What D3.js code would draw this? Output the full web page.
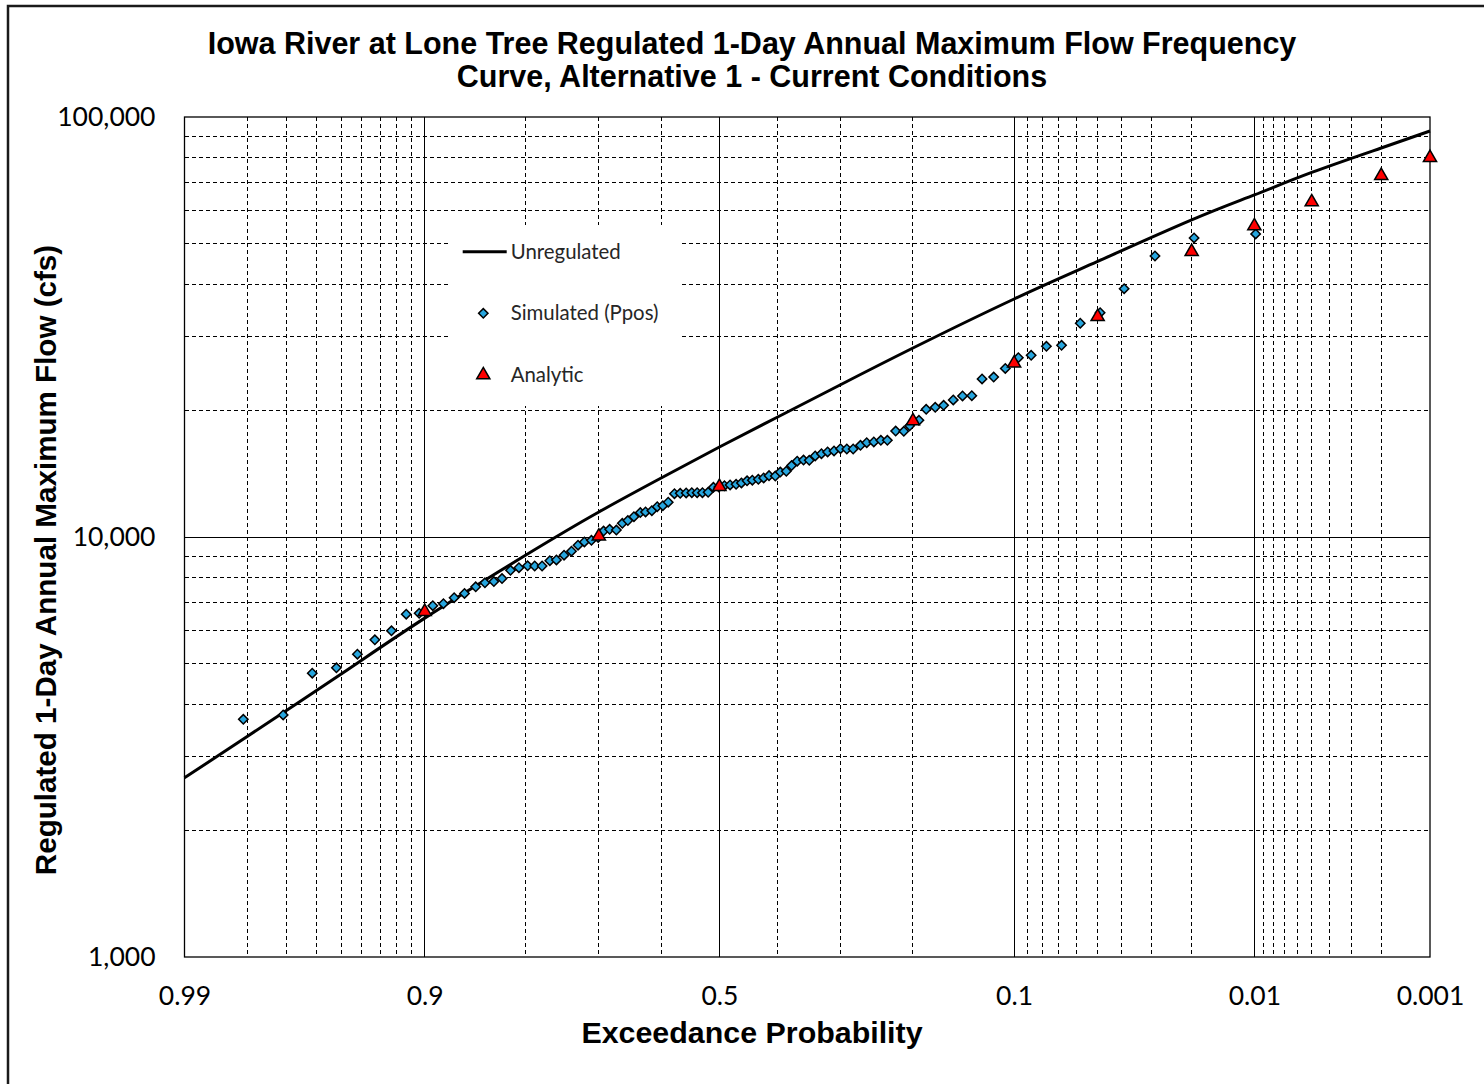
<!DOCTYPE html>
<html>
<head>
<meta charset="utf-8">
<script src="https://cdn.jsdelivr.net/npm/d3@7"></script>
<style>
  body { margin: 0; background: #fff; }
  svg { display: block; }
</style>
</head>
<body>
<div id="chart"></div>
<script>
// unregulated frequency curve
var curveProb = [0.99, 0.98, 0.95, 0.9, 0.8, 0.7, 0.6, 0.5, 0.4, 0.3, 0.2, 0.1, 0.05, 0.02, 0.01, 0.005, 0.002, 0.001];
var curveFlow = [2670, 3350, 4720, 6410, 9060, 11470, 13820, 16380, 19310, 23010, 28180, 36870, 45300, 56870, 65220, 73790, 84370, 92620];

// simulated annual maxima (plotting positions)
var simProb = [0.9808, 0.9711, 0.9617, 0.9521, 0.9423, 0.9330, 0.9231, 0.9134, 0.9042, 0.8937,
  0.8850, 0.8757, 0.8662, 0.8554, 0.8461, 0.8367, 0.8278, 0.8182, 0.8084, 0.7979,
  0.7891, 0.7797, 0.7696, 0.7608, 0.7504, 0.7400, 0.7307, 0.7215, 0.7111, 0.7010,
  0.6928, 0.6835, 0.6730, 0.6636, 0.6548, 0.6450, 0.6346, 0.6260, 0.6156, 0.6066,
  0.5972, 0.5881, 0.5775, 0.5677, 0.5575, 0.5478, 0.5386, 0.5294, 0.5196, 0.5104,
  0.5010, 0.4913, 0.4815, 0.4711, 0.4619, 0.4522, 0.4431, 0.4328, 0.4237, 0.4146,
  0.4040, 0.3956, 0.3856, 0.3768, 0.3676, 0.3573, 0.3480, 0.3385, 0.3286, 0.3190,
  0.3091, 0.2993, 0.2898, 0.2804, 0.2698, 0.2609, 0.2510, 0.2413, 0.2326, 0.2217,
  0.2113, 0.2040, 0.1928, 0.1843, 0.1740, 0.1648, 0.1546, 0.1452, 0.1362, 0.1267,
  0.1165, 0.1069, 0.0968, 0.0876, 0.0775, 0.0684, 0.0583, 0.0489, 0.0392, 0.0291,
  0.0195, 0.00985];
var simFlow = [3680, 3770, 4740, 4880, 5260, 5690, 5980, 6550, 6580, 6860,
  6940, 7170, 7340, 7610, 7780, 7830, 7960, 8330, 8450, 8540,
  8530, 8530, 8780, 8820, 9050, 9250, 9560, 9730, 9820, 9970,
  10330, 10430, 10390, 10780, 10940, 11180, 11430, 11470, 11550, 11810,
  11870, 12100, 12680, 12710, 12730, 12750, 12750, 12750, 12780, 13130,
  13150, 13250, 13300, 13350, 13450, 13610, 13650, 13720, 13820, 14000,
  13970, 14280, 14340, 14790, 15150, 15250, 15230, 15600, 15790, 15940,
  16030, 16230, 16200, 16200, 16530, 16770, 16840, 16990, 16990, 17880,
  17850, 18400, 18960, 20140, 20360, 20590, 21200, 21670, 21700, 23780,
  24040, 25190, 26730, 27080, 28450, 28600, 32280, 34200, 39010, 46670,
  51520, 52660];

// analytic frequency curve ordinates
var anaProb = [0.9, 0.7, 0.5, 0.2, 0.1, 0.05, 0.02, 0.01, 0.005, 0.002, 0.001];
var anaFlow = [6640, 10040, 13180, 18890, 25920, 33450, 47780, 55020, 62750, 72480, 80000];

// axes
var xTickProbs = [0.99, 0.9, 0.5, 0.1, 0.01, 0.001];
var xTickLabels = ["0.99", "0.9", "0.5", "0.1", "0.01", "0.001"];
var xMajorProbs = [0.9, 0.5, 0.1, 0.01];
var xMinorProbs = [0.98, 0.97, 0.96, 0.95, 0.94, 0.93, 0.92, 0.91,
  0.8, 0.7, 0.6, 0.4, 0.3, 0.2,
  0.09, 0.08, 0.07, 0.06, 0.05, 0.04, 0.03, 0.02,
  0.009, 0.008, 0.007, 0.006, 0.005, 0.004, 0.003, 0.002];
var yTicks = [1000, 10000, 100000];
var yMajor = [10000];
var yMinor = [2000, 3000, 4000, 5000, 6000, 7000, 8000, 9000,
  20000, 30000, 40000, 50000, 60000, 70000, 80000, 90000];

var legendItems = ["Unregulated", "Simulated (Ppos)", "Analytic"];

// inverse standard normal (Acklam)
function normInv(p) {
  var a = [-3.969683028665376e+01, 2.209460984245205e+02, -2.759285104469687e+02, 1.383577518672690e+02, -3.066479806614716e+01, 2.506628277459239e+00];
  var b = [-5.447609879822406e+01, 1.615858368580409e+02, -1.556989798598866e+02, 6.680131188771972e+01, -1.328068155288572e+01];
  var c = [-7.784894002430293e-03, -3.223964580411365e-01, -2.400758277161838e+00, -2.549732539343734e+00, 4.374664141464968e+00, 2.938163982698783e+00];
  var d = [7.784695709041462e-03, 3.224671290700398e-01, 2.445134137142996e+00, 3.754408661907416e+00];
  var plow = 0.02425, q, r;
  if (p < plow) {
    q = Math.sqrt(-2 * Math.log(p));
    return (((((c[0]*q+c[1])*q+c[2])*q+c[3])*q+c[4])*q+c[5]) / ((((d[0]*q+d[1])*q+d[2])*q+d[3])*q+1);
  }
  if (p > 1 - plow) {
    q = Math.sqrt(-2 * Math.log(1 - p));
    return -(((((c[0]*q+c[1])*q+c[2])*q+c[3])*q+c[4])*q+c[5]) / ((((d[0]*q+d[1])*q+d[2])*q+d[3])*q+1);
  }
  q = p - 0.5; r = q * q;
  return (((((a[0]*r+a[1])*r+a[2])*r+a[3])*r+a[4])*r+a[5])*q / (((((b[0]*r+b[1])*r+b[2])*r+b[3])*r+b[4])*r+1);
}
// exceedance probability -> standard normal variate
function zOf(p) { return normInv(1 - p); }

var svgWidth = 1484, svgHeight = 1084;
var plot = { left: 184.5, right: 1430, top: 117, bottom: 957 };

var svg = d3.select("#chart").append("svg")
  .attr("width", svgWidth)
  .attr("height", svgHeight);

// outer chart frame
svg.append("rect")
  .attr("x", 8).attr("y", 6)
  .attr("width", 1520).attr("height", 1120)
  .attr("fill", "#fff")
  .attr("stroke", "#1a1a1a")
  .attr("stroke-width", 2.5);

var xScale = d3.scaleLinear()
  .domain([zOf(0.99), zOf(0.001)])
  .range([plot.left, plot.right]);

var yScale = d3.scaleLog()
  .domain([1000, 100000])
  .range([plot.bottom, plot.top]);

// gridlines
var grid = svg.append("g").attr("shape-rendering", "crispEdges");

grid.selectAll(".vminor").data(xMinorProbs).enter().append("line")
  .attr("x1", d => xScale(zOf(d))).attr("x2", d => xScale(zOf(d)))
  .attr("y1", plot.top).attr("y2", plot.bottom)
  .attr("stroke", "#000").attr("stroke-width", 1)
  .attr("stroke-dasharray", "4,3");

grid.selectAll(".hminor").data(yMinor).enter().append("line")
  .attr("x1", plot.left).attr("x2", plot.right)
  .attr("y1", d => yScale(d)).attr("y2", d => yScale(d))
  .attr("stroke", "#000").attr("stroke-width", 1)
  .attr("stroke-dasharray", "4,3");

grid.selectAll(".vmajor").data(xMajorProbs).enter().append("line")
  .attr("x1", d => xScale(zOf(d))).attr("x2", d => xScale(zOf(d)))
  .attr("y1", plot.top).attr("y2", plot.bottom)
  .attr("stroke", "#000").attr("stroke-width", 1);

grid.selectAll(".hmajor").data(yMajor).enter().append("line")
  .attr("x1", plot.left).attr("x2", plot.right)
  .attr("y1", d => yScale(d)).attr("y2", d => yScale(d))
  .attr("stroke", "#000").attr("stroke-width", 1);

// legend box hides the grid behind it
var legend = svg.append("g");
legend.append("rect")
  .attr("x", 449).attr("y", 225)
  .attr("width", 233).attr("height", 181)
  .attr("fill", "#fff");

// plot border
svg.append("rect")
  .attr("x", plot.left).attr("y", plot.top)
  .attr("width", plot.right - plot.left).attr("height", plot.bottom - plot.top)
  .attr("fill", "none")
  .attr("stroke", "#000")
  .attr("stroke-width", 1.3);

// axes
var xAxis = d3.axisBottom(xScale)
  .tickValues(xTickProbs.map(zOf))
  .tickFormat((d, i) => xTickLabels[i])
  .tickSize(0)
  .tickPadding(29);

var yAxis = d3.axisLeft(yScale)
  .tickValues(yTicks)
  .tickFormat(d3.format(","))
  .tickSize(0)
  .tickPadding(29);

var gx = svg.append("g")
  .attr("transform", `translate(0, ${plot.bottom})`)
  .call(xAxis);
var gy = svg.append("g")
  .attr("transform", `translate(${plot.left}, 0)`)
  .call(yAxis);

[gx, gy].forEach(function(g) {
  g.select(".domain").remove();
  g.selectAll("text")
    .attr("fill", "#000")
    .style("font-family", "Lato, 'Open Sans', sans-serif")
    .style("font-size", "26.5px");
});

// unregulated curve
var line = d3.line()
  .x((d, i) => xScale(zOf(curveProb[i])))
  .y(d => yScale(d))
  .curve(d3.curveNatural);

svg.append("path")
  .datum(curveFlow)
  .attr("d", line)
  .attr("fill", "none")
  .attr("stroke", "#000")
  .attr("stroke-width", 3);

// simulated points: diamonds
var diamond = d3.symbol().type(d3.symbolSquare).size(44);
svg.selectAll(".sim").data(simFlow).enter().append("path")
  .attr("d", diamond)
  .attr("transform", (d, i) => `translate(${xScale(zOf(simProb[i]))}, ${yScale(d)}) rotate(45)`)
  .attr("fill", "#27A6DE")
  .attr("stroke", "#000")
  .attr("stroke-width", 1.5);

// analytic points: triangles
var triangle = d3.symbol().type(d3.symbolTriangle).size(75);
svg.selectAll(".ana").data(anaFlow).enter().append("path")
  .attr("d", triangle)
  .attr("transform", (d, i) => `translate(${xScale(zOf(anaProb[i]))}, ${yScale(d)})`)
  .attr("fill", "#ff0000")
  .attr("stroke", "#000")
  .attr("stroke-width", 1.5);

// legend entries
var rowY = [251.7, 313.3, 375];
legend.append("line")
  .attr("x1", 462.7).attr("x2", 506.7)
  .attr("y1", rowY[0]).attr("y2", rowY[0])
  .attr("stroke", "#000").attr("stroke-width", 3);
legend.append("path")
  .attr("d", diamond)
  .attr("transform", `translate(483.3, ${rowY[1]}) rotate(45)`)
  .attr("fill", "#27A6DE").attr("stroke", "#000").attr("stroke-width", 1.5);
legend.append("path")
  .attr("d", triangle)
  .attr("transform", `translate(483.3, ${rowY[2]})`)
  .attr("fill", "#ff0000").attr("stroke", "#000").attr("stroke-width", 1.5);
legend.selectAll(".ltext").data(legendItems).enter().append("text")
  .attr("x", 510.7)
  .attr("y", (d, i) => rowY[i] + 7)
  .text(d => d)
  .style("font-family", "Lato, 'Open Sans', sans-serif")
  .style("font-size", "20.4px")
  .attr("fill", "#262626");

// titles
var titleFont = "'Liberation Sans', Arial, sans-serif";
var title = svg.append("text")
  .attr("text-anchor", "middle")
  .style("font-family", titleFont)
  .style("font-weight", "bold")
  .style("font-size", "30.5px");
title.append("tspan").attr("x", 752).attr("y", 54)
  .text("Iowa River at Lone Tree Regulated 1-Day Annual Maximum Flow Frequency");
title.append("tspan").attr("x", 752).attr("y", 87)
  .text("Curve, Alternative 1 - Current Conditions");

svg.append("text")
  .attr("x", 752).attr("y", 1043)
  .attr("text-anchor", "middle")
  .style("font-family", titleFont)
  .style("font-weight", "bold")
  .style("font-size", "30.4px")
  .text("Exceedance Probability");

svg.append("text")
  .attr("transform", "translate(56, 560) rotate(-90)")
  .attr("text-anchor", "middle")
  .style("font-family", titleFont)
  .style("font-weight", "bold")
  .style("font-size", "29.6px")
  .text("Regulated 1-Day Annual Maximum Flow (cfs)");
</script>
</body>
</html>
